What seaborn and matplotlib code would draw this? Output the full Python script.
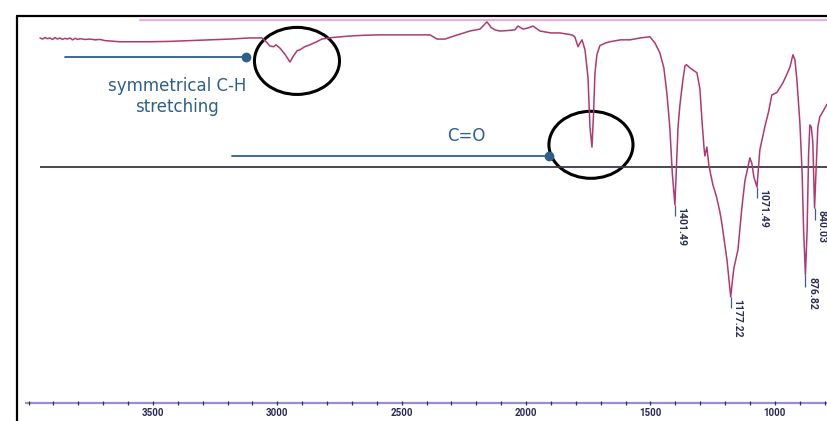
import matplotlib
matplotlib.use("Agg")
import matplotlib.pyplot as plt
from matplotlib.patches import Ellipse
from matplotlib.lines import Line2D
from matplotlib import font_manager
import seaborn as sns
import pandas as pd

# ---- data: wavenumber (cm-1) and transmittance (%) ----
wavenumber = [3954, 3944, 3934, 3924, 3914, 3904, 3894, 3884, 3874, 3864, 3854, 3844,
              3834, 3824, 3813, 3803, 3793, 3773, 3753, 3733, 3713, 3693, 3673, 3633,
              3592, 3552, 3512, 3432, 3311, 3190, 3110, 3062, 3045, 3030, 3015, 3005,
              2989, 2969, 2949, 2935, 2920, 2909, 2890, 2869, 2845, 2821, 2780, 2708,
              2650, 2587, 2507, 2430, 2386, 2358, 2326, 2280, 2226, 2185, 2157, 2140,
              2125, 2105, 2080, 2045, 2033, 2012, 1992, 1972, 1944, 1900, 1864, 1816,
              1804, 1791, 1783, 1775, 1763, 1751, 1743, 1735, 1729, 1723, 1715, 1703,
              1680, 1663, 1620, 1582, 1540, 1502, 1482, 1462, 1446, 1434, 1422, 1412,
              1401.49, 1395, 1389, 1381, 1370, 1361, 1355, 1341, 1313, 1301, 1293, 1285,
              1281, 1273, 1265, 1249, 1235, 1221, 1213, 1192, 1177.22, 1165, 1148, 1132,
              1120, 1110, 1100, 1092, 1084, 1071.49, 1060, 1040, 1025, 1012, 991, 967,
              950, 939, 927, 919, 911, 899, 890, 884, 876.82, 870, 864, 859, 853, 847,
              840.03, 833, 827, 819, 807, 790]
transmittance = [95.3, 95.0, 95.4, 95.1, 95.3, 94.9, 95.4, 95.0, 95.3, 94.9, 95.2, 95.0,
                 95.3, 94.8, 95.2, 94.9, 95.1, 94.9, 95.0, 94.8, 94.9, 94.6, 94.5, 94.3,
                 94.3, 94.3, 94.3, 94.4, 94.7, 95.0, 95.3, 95.3, 94.3, 93.2, 93.0, 93.5,
                 92.6, 91.0, 89.0, 90.6, 92.0, 92.2, 93.0, 93.5, 94.2, 95.0, 95.4, 95.8,
                 96.0, 96.1, 96.1, 96.1, 96.1, 95.0, 95.0, 96.0, 97.1, 97.6, 99.5, 98.0,
                 97.4, 97.1, 97.2, 97.4, 98.4, 97.6, 97.9, 98.4, 97.1, 96.6, 96.6, 96.1,
                 95.6, 93.0, 94.0, 94.8, 92.2, 85.0, 72.0, 66.8, 75.0, 86.0, 91.0, 93.3,
                 94.0, 94.3, 94.8, 94.8, 95.3, 95.6, 94.0, 91.4, 87.5, 81.0, 72.0, 60.0,
                 51.7, 62.0, 72.0, 78.0, 84.0, 88.0, 88.3, 87.5, 86.2, 82.0, 74.0, 67.0,
                 64.5, 66.8, 62.0, 57.0, 54.0, 50.0, 47.0, 37.3, 27.7, 35.0, 40.0, 51.2,
                 58.0, 61.0, 64.0, 62.5, 59.0, 56.4, 66.1, 72.1, 76.0, 80.4, 81.1, 83.6,
                 86.0, 87.7, 90.9, 89.6, 84.3, 73.1, 60.0, 45.0, 33.4, 45.0, 65.0, 72.6,
                 72.0, 68.0, 50.9, 62.0, 72.0, 74.7, 76.0, 78.0]

peak_positions = [1401.49, 1177.22, 1071.49, 876.82, 840.03]
peak_depths = [51.7, 27.7, 56.4, 33.4, 50.9]
peak_labels = ["1401.49", "1177.22", "1071.49", "876.82", "840.03"]

axis_ticks = [3500, 3000, 2500, 2000, 1500, 1000]
axis_tick_labels = ["3500", "3000", "2500", "2000", "1500", "1000"]
minor_ticks = list(range(4000, 700, -100))

df = pd.DataFrame({"wavenumber": wavenumber, "T": transmittance})

sns.set_theme(style="white")
plt.rcParams["font.family"] = ["DejaVu Sans"]

installed = {f.name for f in font_manager.fontManager.ttflist}
narrow = ["Liberation Sans Narrow"] if "Liberation Sans Narrow" in installed else ["Roboto"]
small_font = narrow + ["DejaVu Sans"]

W, H = 828, 421
fig = plt.figure(figsize=(W / 100, H / 100), dpi=100)
fig.patch.set_facecolor("white")
ax = fig.add_axes([0, 0, 1, 1])
ax.set_xlim(4115, 786)
ax.set_ylim(-4.7, 105.2)
ax.axis("off")

# frame lines of the scanned chart (figure coordinates)
fig.add_artist(Line2D([17 / W, 17 / W], [0, 1 - 16 / H], color="black", lw=1.6))
fig.add_artist(Line2D([17 / W, 1], [1 - 16 / H, 1 - 16 / H], color="black", lw=1.6))
fig.add_artist(Line2D([140 / W, 1], [1 - 19.5 / H, 1 - 19.5 / H], color="#e8b0d8", lw=1.6))

# horizontal reference line
ax.hlines(61.6, 3954, 786, color="#3a3a48", lw=1.3)

# bottom wavenumber axis
ax.hlines(0, 4015, 786, color="#9c8ad6", lw=1.6)
ax.vlines(minor_ticks, -0.5, 0.5, color="#303050", lw=0.9)
for t, lab in zip(axis_ticks, axis_tick_labels):
    ax.text(t, -2.7, lab, ha="center", va="center", fontsize=7,
            fontweight="bold", color="#2a2a5a", family=small_font)

# spectrum
sns.lineplot(data=df, x="wavenumber", y="T", sort=False, estimator=None,
             ax=ax, color="#b0396f", lw=1.1)

# peak markers and labels
ax.vlines(peak_positions, [d - 3.0 for d in peak_depths], peak_depths,
          color="#3a5a9a", lw=0.9)
for p, d, lab in zip(peak_positions, peak_depths, peak_labels):
    ax.text(p - (25 if p > 1000 else 28), d - 0.6, lab, rotation=270,
            ha="center", va="top", fontsize=7.5, fontweight="bold",
            color="#2a2f55", family=small_font)

# annotations
blue = "#2c5f8a"
ax.plot([3854, 3126], [90.3, 90.3], color=blue, lw=1.3)
ax.plot([3126], [90.3], "o", color=blue, ms=6)
ax.text(3403, 80.0, "symmetrical C-H\nstretching", ha="center", va="center",
        fontsize=12, color=blue, linespacing=1.2)

ax.plot([3182, 1908], [64.5, 64.5], color=blue, lw=1.3)
ax.plot([1908], [64.5], "o", color=blue, ms=6)
ax.text(2242, 69.7, "C=O", ha="center", va="center", fontsize=12, color=blue)

ax.add_patch(Ellipse((2921, 89.3), 342, 17.5, fill=False, ec="black", lw=2.2))
ax.add_patch(Ellipse((1739, 67.4), 338, 17.5, fill=False, ec="black", lw=2.2))

fig.savefig("out.png", dpi=100)
